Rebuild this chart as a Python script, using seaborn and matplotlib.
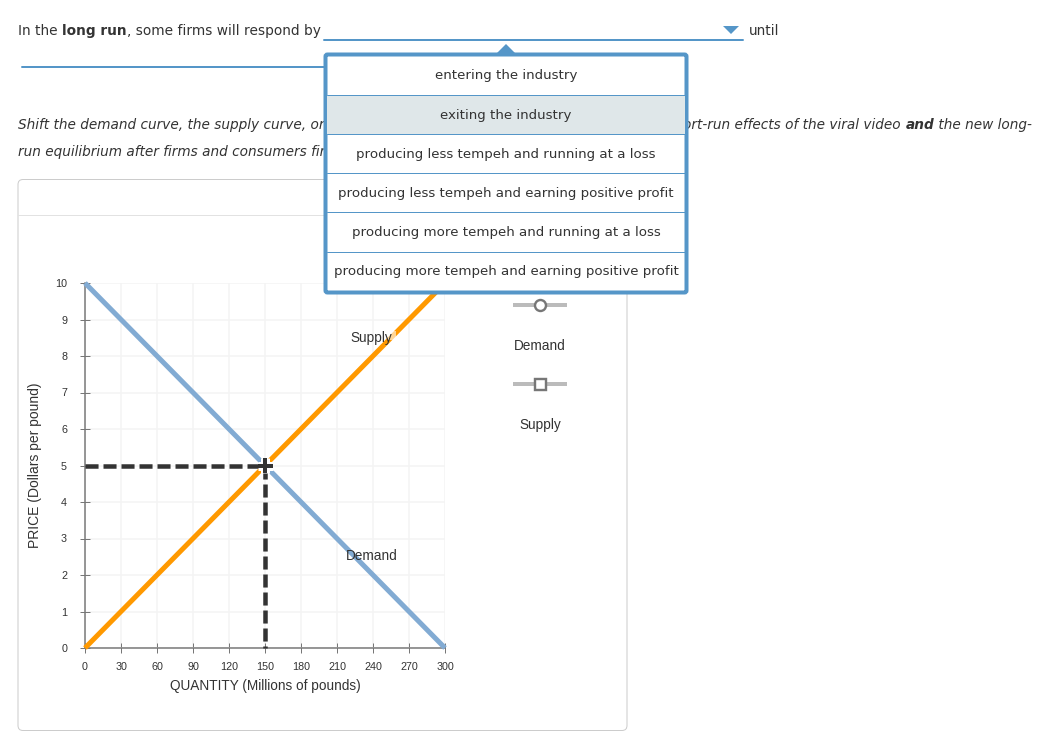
"""Tempeh market question: supply and demand graph with an open dropdown."""
import matplotlib
matplotlib.use("Agg")  # headless backend

import matplotlib.patheffects as pe
import matplotlib.pyplot as plt
import pandas as pd
import seaborn as sns
from matplotlib.patches import FancyBboxPatch, Polygon, Rectangle

# chart values
quantity_ends = [0, 300]
demand_prices = [10, 0]
supply_prices = [0, 10]
eq_quantity = 150
eq_price = 5
x_ticks = [0, 30, 60, 90, 120, 150, 180, 210, 240, 270, 300]
y_ticks = [0, 1, 2, 3, 4, 5, 6, 7, 8, 9, 10]
x_label = "QUANTITY (Millions of pounds)"
y_label = "PRICE (Dollars per pound)"
legend_names = ["Demand", "Supply"]

dropdown_options = [
    "entering the industry",
    "exiting the industry",
    "producing less tempeh and running at a loss",
    "producing less tempeh and earning positive profit",
    "producing more tempeh and running at a loss",
    "producing more tempeh and earning positive profit",
]

BLUE = "#5596c8"
DEMAND = "#82abd3"
SUPPLY = "#ff9900"
INK = "#333333"
W, H = 1049, 744

sns.set_style("white")
plt.rcParams["font.family"] = ["DejaVu Sans"]

fig = plt.figure(figsize=(W / 100, H / 100), dpi=100, facecolor="white")


def px(size):
    return size * 0.72


# page layer in pixel coordinates, sits behind the chart
page = fig.add_axes([0, 0, 1, 1], zorder=0)
page.set_xlim(0, W)
page.set_ylim(H, 0)
page.axis("off")

# popup layer, sits on top of the chart
top = fig.add_axes([0, 0, 1, 1], zorder=5)
top.set_xlim(0, W)
top.set_ylim(H, 0)
top.axis("off")
top.patch.set_alpha(0)


def run_text(ax, x, y, runs, size=13.7, align="left", **kw):
    """Draw (text, weight) runs one after the other on a line."""
    renderer = fig.canvas.get_renderer()
    items = []
    for s, weight in runs:
        t = ax.text(x, y, s, fontsize=px(size), fontweight=weight, color=INK,
                    va="center", ha="left", **kw)
        items.append(t)
    # space widths are dropped at the run ends, so use no-break spaces
    widths = []
    for t in items:
        t.set_text(t.get_text().replace(" ", "\u00a0"))
        widths.append(t.get_window_extent(renderer).width)
    cur = x - sum(widths) if align == "right" else x
    for t, w in zip(items, widths):
        t.set_x(cur)
        cur += w


run_text(page, 18, 31, [("In the ", "normal"), ("long run", "bold"),
                        (", some firms will respond by", "normal")])
run_text(page, 749, 31, [("until", "normal")])
run_text(page, 18, 125, [("Shift the demand curve, the supply curve, or", "normal")],
         size=13.6, style="italic")
run_text(page, 18, 152, [("run equilibrium after firms and consumers fin", "normal")],
         size=13.6, style="italic")
run_text(page, 1032, 125, [("ort-run effects of the viral video ", "normal"),
                           ("and", "bold"), (" the new long-", "normal")],
         size=13.6, style="italic", align="right")

page.plot([324, 743], [40, 40], color=BLUE, lw=px(2))
page.plot([22, 324], [67, 67], color=BLUE, lw=px(2))
page.add_patch(Polygon([(723, 26), (739, 26), (731, 34)], color=BLUE, lw=0))

# card around the graph
page.add_patch(FancyBboxPatch((18, 179.5), 609, 551, boxstyle="round,pad=0,rounding_size=5",
                              fc="white", ec="#cccccc", lw=px(1)))
page.plot([18, 627], [215, 215], color="#e2e2e2", lw=px(1))

# graph
ax = fig.add_axes([85 / W, (H - 648) / H, 360 / W, 365 / H], zorder=2)
ax.patch.set_alpha(0)

curves = pd.DataFrame({
    "quantity": quantity_ends * 2,
    "price": demand_prices + supply_prices,
    "curve": ["Demand", "Demand", "Supply", "Supply"],
})

sns.lineplot(data=curves, x="quantity", y="price", hue="curve", sort=False, estimator=None,
             palette={"Demand": DEMAND, "Supply": SUPPLY}, lw=px(5), legend=False,
             solid_capstyle="butt", clip_on=False, zorder=3, ax=ax)

guides = (0, (2.9, 1.1))
sns.lineplot(x=[quantity_ends[0], eq_quantity], y=[eq_price, eq_price], color=INK, lw=px(4.5),
             linestyle=guides, dash_capstyle="butt", estimator=None, sort=False,
             clip_on=False, zorder=4, ax=ax)
sns.lineplot(x=[eq_quantity, eq_quantity], y=[eq_price, y_ticks[0]], color=INK, lw=px(4.5),
             linestyle=guides, dash_capstyle="butt", estimator=None, sort=False,
             clip_on=False, zorder=4, ax=ax)
ax.plot([eq_quantity], [eq_price], marker="+", ms=px(15), mew=px(4), color=INK, zorder=5,
        path_effects=[pe.Stroke(linewidth=px(9), foreground="white"), pe.Normal()])

ax.set_xlim(x_ticks[0], x_ticks[-1])
ax.set_ylim(y_ticks[0], y_ticks[-1])
ax.set_xticks(x_ticks)
ax.set_yticks(y_ticks)
ax.grid(True, color="#f4f4f4", lw=px(1.5))
ax.set_axisbelow(True)
ax.tick_params(axis="both", direction="inout", length=px(10), width=px(1), color="#777777",
               labelsize=px(10.8), labelcolor=INK, left=True, bottom=True)
ax.tick_params(axis="x", pad=px(9))
ax.tick_params(axis="y", pad=px(13))
for lab in ax.get_xticklabels() + ax.get_yticklabels():
    lab.set_fontfamily("Liberation Sans")
for side in ["top", "right"]:
    ax.spines[side].set_visible(False)
for side in ["left", "bottom"]:
    ax.spines[side].set_color("#777777")
    ax.spines[side].set_linewidth(px(1.5))

ax.set_xlabel(x_label, fontsize=px(13.6), family="Liberation Sans", color=INK, va="center")
ax.set_ylabel(y_label, fontsize=px(13.9), family="Liberation Sans", color=INK, va="center")
ax.xaxis.set_label_coords(0.5, -38 / 365)
ax.yaxis.set_label_coords(-50 / 360, 0.5)

# curve labels and legend
top.add_patch(Rectangle((388, 331), 8, 9, fc="white", ec="none", alpha=0.6, zorder=1))
top.text(371.5, 338, legend_names[1], fontsize=px(13.6), family="Liberation Sans", color=INK,
         ha="center", va="center", zorder=2)
top.text(371.5, 556, legend_names[0], fontsize=px(13.6), family="Liberation Sans", color=INK,
         ha="center", va="center", zorder=2)

for name, y_key, marker in zip(legend_names, [305, 384], ["o", "s"]):
    top.plot([513, 567], [y_key, y_key], color="#bbbbbb", lw=px(4), solid_capstyle="butt")
    top.plot([540], [y_key], marker=marker, ms=px(11), mfc="white", mec="#777777", mew=px(2.4))
    top.text(540, y_key + 41, name, fontsize=px(13.6), family="Liberation Sans", color=INK,
             ha="center", va="center")

# dropdown popup
top.add_patch(Polygon([(497, 53), (506, 44), (515, 53)], color=BLUE, lw=0, zorder=3))
top.add_patch(FancyBboxPatch((325.5, 54.5), 361, 238, boxstyle="round,pad=0,rounding_size=2",
                             fc="white", ec=BLUE, lw=px(4), zorder=3))
top.add_patch(Rectangle((327, 95), 358, 39, fc="#dfe7e9", ec="none", zorder=3.1))
for i, option in enumerate(dropdown_options):
    row_y = 56 + 39.1 * i
    if i > 0:
        top.plot([327, 685], [row_y, row_y], color=BLUE, lw=px(1), zorder=3.2)
    top.text(506, row_y + 20, option, fontsize=px(13.4), color=INK, ha="center", va="center",
             zorder=3.3)

fig.savefig("out.png", dpi=100)
